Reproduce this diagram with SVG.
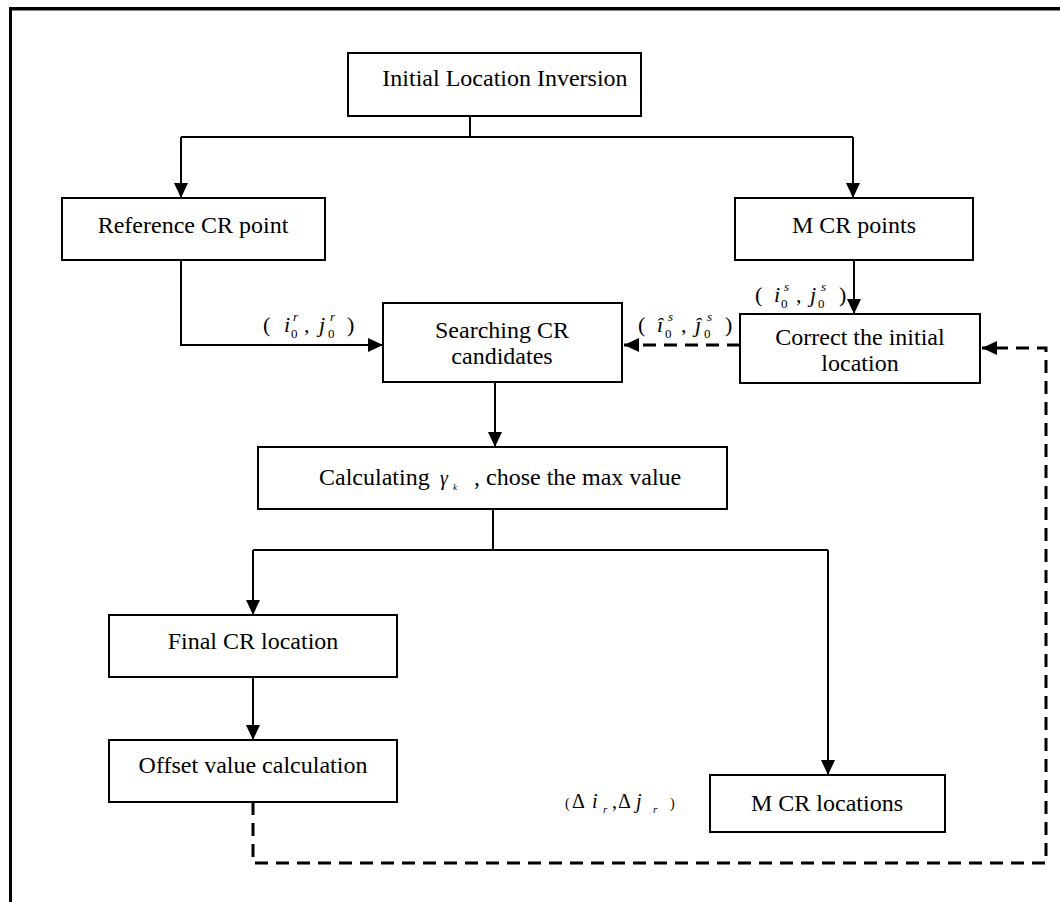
<svg xmlns="http://www.w3.org/2000/svg" width="1060" height="902" viewBox="0 0 1060 902">
<style>
.box{fill:#fff;stroke:#000;stroke-width:2}
.t{font-family:"Liberation Serif","Times New Roman",serif;font-size:24px;fill:#000;text-anchor:middle}
.m{font-family:"Liberation Serif","Times New Roman",serif;font-size:22px;fill:#000}
.mi{font-style:italic}
.s{font-size:13px}
.ln{fill:none;stroke:#000;stroke-width:2}
.ds{fill:none;stroke:#000;stroke-width:3;stroke-dasharray:13 8}
</style>
<defs>
<marker id="ah" markerUnits="userSpaceOnUse" markerWidth="16" markerHeight="14" refX="15" refY="7" orient="auto">
<path d="M0,0 L15,7 L0,14 Z" fill="#000"/>
</marker>
</defs>
<rect width="1060" height="902" fill="#fff"/>
<g id="frame">
<line x1="9" y1="8.5" x2="1060" y2="8.5" stroke="#000" stroke-width="3"/>
<line x1="12" y1="10.5" x2="1060" y2="10.5" stroke="#888" stroke-width="1"/>
<line x1="10.5" y1="7" x2="10.5" y2="902" stroke="#000" stroke-width="3"/>
</g>
<g id="connectors">
<path class="ln" d="M470,116 V137 M181,137 H853"/>
<path class="ln" d="M181,137 V198" marker-end="url(#ah)"/>
<path class="ln" d="M853,137 V198" marker-end="url(#ah)"/>
<path class="ln" d="M181,260 V345 H383" marker-end="url(#ah)"/>
<path class="ln" d="M854,260 V314" marker-end="url(#ah)"/>
<path class="ds" d="M740,345 H624" marker-end="url(#ah)"/>
<path class="ln" d="M495,382 V447" marker-end="url(#ah)"/>
<path class="ln" d="M493,509 V550 M253,550 H828"/>
<path class="ln" d="M253,550 V615" marker-end="url(#ah)"/>
<path class="ln" d="M253,677 V740" marker-end="url(#ah)"/>
<path class="ln" d="M828,550 V775" marker-end="url(#ah)"/>
<path class="ds" d="M253,802 V863 H1046 V348 H982" marker-end="url(#ah)"/>
</g>
<g id="n-initial">
<rect class="box" x="348" y="53" width="293" height="63"/>
<text class="t" x="505" y="86">Initial Location Inversion</text>
</g>
<g id="n-reference">
<rect class="box" x="62" y="198" width="263" height="62"/>
<text class="t" x="193" y="233">Reference CR point</text>
</g>
<g id="n-mcrpoints">
<rect class="box" x="735" y="198" width="238" height="62"/>
<text class="t" x="854" y="233">M CR points</text>
</g>
<g id="n-searching">
<rect class="box" x="383" y="303" width="239" height="79"/>
<text class="t" x="502" y="338">Searching CR</text>
<text class="t" x="502" y="364">candidates</text>
</g>
<g id="n-correct">
<rect class="box" x="740" y="314" width="240" height="69"/>
<text class="t" x="860" y="345">Correct the initial</text>
<text class="t" x="860" y="371">location</text>
</g>
<g id="n-calculating">
<rect class="box" x="258" y="447" width="469" height="62"/>
<text class="m" x="319" y="485" style="font-size:24px">Calculating</text>
<text class="m mi" x="440" y="485" style="font-size:20px">γ</text>
<text class="m mi" x="453" y="490" style="font-size:9px">k</text>
<text class="m" x="474" y="485" style="font-size:24px">, chose the max value</text>
</g>
<g id="n-final">
<rect class="box" x="109" y="615" width="288" height="62"/>
<text class="t" x="253" y="649">Final CR location</text>
</g>
<g id="n-offset">
<rect class="box" x="109" y="740" width="288" height="62"/>
<text class="t" x="253" y="773">Offset value calculation</text>
</g>
<g id="n-mcrlocations">
<rect class="box" x="710" y="775" width="235" height="57"/>
<text class="t" x="827" y="811">M CR locations</text>
</g>
<g id="labels">
<g id="lab-r">
<text class="m" x="263" y="332">(</text>
<text class="m mi" x="284" y="332">i</text>
<text class="m mi s" x="293" y="321">r</text>
<text class="m s" x="291" y="338">0</text>
<text class="m" x="304" y="332">,</text>
<text class="m mi" x="319" y="332">j</text>
<text class="m mi s" x="330" y="321">r</text>
<text class="m s" x="328" y="338">0</text>
<text class="m" x="347" y="332">)</text>
</g>
<g id="lab-hat">
<text class="m" x="638" y="332">(</text>
<text class="m mi" x="657" y="332">î</text>
<text class="m mi s" x="668" y="321">s</text>
<text class="m s" x="665" y="338">0</text>
<text class="m" x="681" y="332">,</text>
<text class="m mi" x="695" y="332">ĵ</text>
<text class="m mi s" x="707" y="321">s</text>
<text class="m s" x="704" y="338">0</text>
<text class="m" x="725" y="332">)</text>
</g>
<g id="lab-s">
<text class="m" x="755" y="302">(</text>
<text class="m mi" x="774" y="302">i</text>
<text class="m mi s" x="784" y="291">s</text>
<text class="m s" x="781" y="308">0</text>
<text class="m" x="796" y="302">,</text>
<text class="m mi" x="810" y="302">j</text>
<text class="m mi s" x="821" y="291">s</text>
<text class="m s" x="818" y="308">0</text>
<text class="m" x="839" y="302">)</text>
</g>
<g id="lab-delta">
<text class="m" x="565" y="808" style="font-size:14px">(</text>
<text class="m" x="572" y="808" style="font-size:20px">Δ</text>
<text class="m mi" x="592" y="808" style="font-size:20px">i</text>
<text class="m mi" x="603" y="813" style="font-size:11px">r</text>
<text class="m" x="612" y="808" style="font-size:20px">,</text>
<text class="m" x="618" y="808" style="font-size:20px">Δ</text>
<text class="m mi" x="636" y="808" style="font-size:20px">j</text>
<text class="m mi" x="653" y="813" style="font-size:11px">r</text>
<text class="m" x="670" y="808" style="font-size:14px">)</text>
</g>
</g>
</svg>
